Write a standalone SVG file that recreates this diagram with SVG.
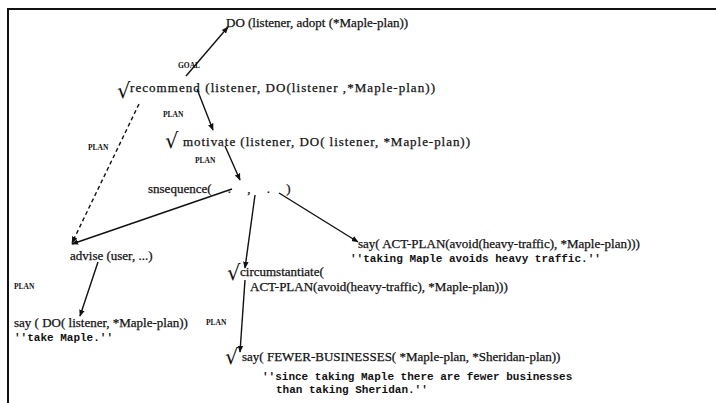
<svg xmlns="http://www.w3.org/2000/svg" width="716" height="403" viewBox="0 0 716 403">
<defs>
<marker id="ah" viewBox="0 0 10 10" refX="9" refY="5" markerWidth="7" markerHeight="7" orient="auto" markerUnits="userSpaceOnUse"><path d="M0,1 L10,5 L0,9 z" fill="#111"/></marker>
<style>
.t{font-family:"Liberation Serif","Times New Roman",serif;font-size:13px;fill:#111;stroke:#111;stroke-width:0.25}
.m{font-family:"Liberation Mono","Courier New",monospace;font-size:11px;font-weight:bold;fill:#111}
.l{font-family:"Liberation Serif","Times New Roman",serif;font-size:7.5px;font-weight:bold;fill:#111}
.ck{font-family:"DejaVu Sans",sans-serif;font-size:21px;fill:#111}
.c{stroke:#111;stroke-width:1.4;fill:none}
.d{stroke:#111;stroke-width:1.4;fill:none;stroke-dasharray:4 3}
</style>
</defs>
<rect width="716" height="403" fill="#fff"/>
<g id="frame"><path d="M8,403 V9 H716" stroke="#111" stroke-width="2" fill="none"/></g>
<g id="connectors">
<line class="c" x1="186" y1="76" x2="228" y2="27" marker-end="url(#ah)"/>
<text class="l" x="178" y="68">GOAL</text>
<line class="c" x1="197" y1="89" x2="213" y2="130" marker-end="url(#ah)"/>
<text class="l" x="163" y="117">PLAN</text>
<line class="d" x1="139" y1="104" x2="72" y2="243" marker-end="url(#ah)"/>
<text class="l" x="88" y="150">PLAN</text>
<line class="c" x1="225" y1="146" x2="240" y2="180" marker-end="url(#ah)"/>
<text class="l" x="195" y="163">PLAN</text>
<line class="c" x1="232" y1="189" x2="72" y2="244" marker-end="url(#ah)"/>
<line class="c" x1="279" y1="193" x2="358" y2="242" marker-end="url(#ah)"/>
<line class="c" x1="255" y1="195" x2="245" y2="268" marker-end="url(#ah)"/>
<line class="c" x1="98" y1="262" x2="80" y2="316" marker-end="url(#ah)"/>
<text class="l" x="14" y="289">PLAN</text>
<line class="c" x1="245" y1="280" x2="240" y2="352" marker-end="url(#ah)"/>
<text class="l" x="206" y="325">PLAN</text>
</g>
<g id="n-do"><text class="t" x="226" y="27">DO (listener, adopt (*Maple-plan))</text></g>
<g id="n-recommend"><text class="ck" x="117" y="98">√</text><text class="t" x="130" y="92" textLength="305" lengthAdjust="spacing">recommend (listener, DO(listener ,*Maple-plan))</text></g>
<g id="n-motivate"><text class="ck" x="165" y="148">√</text><text class="t" x="183" y="146" textLength="287" lengthAdjust="spacing">motivate (listener,  DO( listener, *Maple-plan))</text></g>
<g id="n-snsequence"><text class="t" x="148" y="193" xml:space="preserve">snsequence(     .     ,     .     )</text></g>
<g id="n-advise"><text class="t" x="70" y="260">advise (user,  ...)</text></g>
<g id="n-say-act"><text class="t" x="358" y="248">say( ACT-PLAN(avoid(heavy-traffic), *Maple-plan)))</text><text class="m" x="350" y="262">''taking Maple avoids heavy traffic.''</text></g>
<g id="n-circ"><text class="ck" x="227" y="280">√</text><text class="t" x="240" y="276">circumstantiate(</text><text class="t" x="250" y="291">ACT-PLAN(avoid(heavy-traffic), *Maple-plan)))</text></g>
<g id="n-say-do"><text class="t" x="14" y="327">say ( DO( listener, *Maple-plan))</text><text class="m" x="14" y="341">''take Maple.''</text></g>
<g id="n-say-fewer"><text class="ck" x="225" y="364">√</text><text class="t" x="242" y="361">say( FEWER-BUSINESSES( *Maple-plan, *Sheridan-plan))</text><text class="m" x="262" y="380">''since taking Maple there are fewer businesses</text><text class="m" x="276" y="393">than taking Sheridan.''</text></g>
</svg>
